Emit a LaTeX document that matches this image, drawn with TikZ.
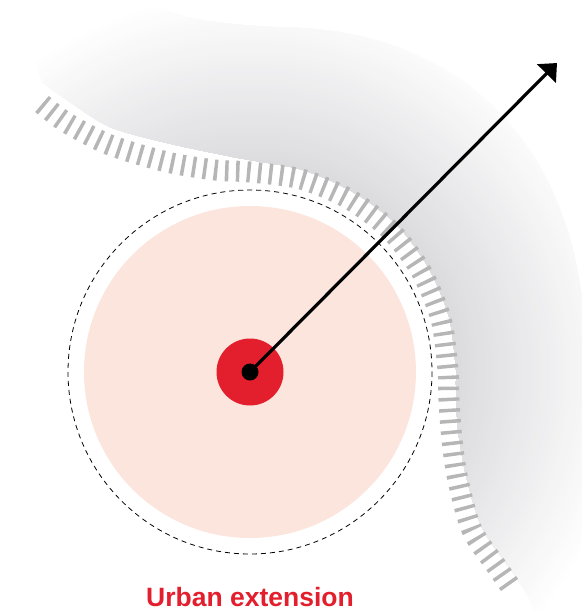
\documentclass[tikz,border=0pt]{standalone}
\usepackage{fontspec}
\setmainfont{Liberation Sans}
\usetikzlibrary{arrows.meta}
\definecolor{urbanred}{RGB}{227,30,45}
\definecolor{urbanpink}{RGB}{251,229,220}
\definecolor{edgegray}{RGB}{182,182,182}
\definecolor{fadegray}{RGB}{220,220,223}

\begin{document}
\begin{tikzpicture}[x=1pt,y=-1pt]
            \useasboundingbox (0,0) rectangle (582,611);
            % shaded outer area, fading out with distance
            \begin{scope}
                \clip (30,50) .. controls (25,20) and (120,0) .. (157,7) .. controls (175,12) and (190,25) .. (300,28) .. controls (440,35) and (560,120) .. (582,300) -- (582,611) -- (535,611)
                    -- plot[smooth] coordinates {(530,600) (518,580) (483,530) (467,480) (458,430) (456,385) (456,370) (449,317) (428,267) (396,224) (353,192) (303,170) (250,160) (233,157) (167,143) (110,127) (67,100) (43,83)} -- cycle;
                \foreach \r in {420,416,...,200}{
                    \pgfmathsetmacro\p{min(100,max(0,(380-\r)/1.7))}
                    \fill[fadegray!\p!white] (250,372) circle (\r);
                }
            \end{scope}
            % hatched edge
            \draw[edgegray, line width=21, dash pattern=on 3.5 off 7.5] plot[smooth] coordinates {(42,104) (67,123) (110,145) (167,162) (215,170) (250,172) (301,179) (349,199) (390,230) (421,271) (441,319) (448,370) (449,400) (452,440) (458,480) (472,530) (497,567) (511,587)};
            % circles
            \draw[dash pattern=on 5 off 4, line width=0.8] (250,372) circle (182);
            \fill[urbanpink] (250,372) circle (166);
            \fill[urbanred] (250,372) circle (33.5);
            \node[circle, fill=black, inner sep=0, minimum size=17] (core) at (250,372) {};
            \coordinate (tip) at (557,63);
            \draw[line width=3.2, -{Triangle[length=15, width=26]}] (core.center) -- (tip);
            \node[text=urbanred, font=\bfseries\fontsize{26.5}{30}\selectfont, anchor=base, inner sep=0] (label) at (250,606) {Urban extension};
        \end{tikzpicture}
\end{document}
